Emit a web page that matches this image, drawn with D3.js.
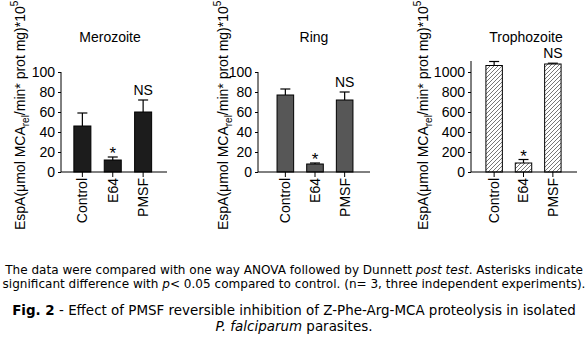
<!DOCTYPE html>
<html><head><meta charset="utf-8">
<script src="https://cdn.jsdelivr.net/npm/d3@7"></script>
<style>
body{margin:0;background:#fff;}
svg{display:block;}
</style></head>
<body>
<svg id="c" width="588" height="342"></svg>
<script>
const categories = ["Control", "E64", "PMSF"];
const panelTitles = ["Merozoite", "Ring", "Trophozoite"];
const merozoiteMean = [46, 12, 60];
const merozoiteErr = [59, 15, 72];
const ringMean = [77, 8, 72];
const ringErr = [83, 9, 80];
const trophozoiteMean = [1065, 90, 1080];
const trophozoiteErr = [1105, 125, 1088];
const marks = ["", "*", "NS"];
const ticksSmall = [0, 20, 40, 60, 80, 100];
const ticksLarge = [0, 200, 400, 600, 800, 1000];

const svg = d3.select("#c");
const defs = svg.append("defs");
const pat = defs.append("pattern").attr("id","hatch").attr("patternUnits","userSpaceOnUse")
  .attr("width",4).attr("height",4);
pat.append("rect").attr("width",4).attr("height",4).attr("fill","#fff");
pat.append("path").attr("d","M-1,1 l2,-2 M0,4 l4,-4 M3,5 l2,-2")
  .attr("stroke","#666").attr("stroke-width",0.9);

const FONT = "'Liberation Sans', Arial, sans-serif";
const panels = [
  {title:panelTitles[0], mean:merozoiteMean, err:merozoiteErr, ticks:ticksSmall, dom:[0,100], top:100,
   ax:61, b0:60.5, b1:165, xend:167, fill:"#1c1c1c", tx:110, lx:25},
  {title:panelTitles[1], mean:ringMean, err:ringErr, ticks:ticksSmall, dom:[0,100], top:100,
   ax:258, b0:264, b1:366, xend:370, fill:"#575757", tx:314, lx:228},
  {title:panelTitles[2], mean:trophozoiteMean, err:trophozoiteErr, ticks:ticksLarge, dom:[0,1000], top:1110,
   ax:471, b0:473, b1:574, xend:577, fill:"url(#hatch)", tx:526, lx:428}
];

const y0 = 172, y1 = 72;
panels.forEach(p => {
  const g = svg.append("g");
  const y = d3.scaleLinear().domain(p.dom).range([y0, y1]);
  const x = d3.scaleBand().domain(categories).range([p.b0, p.b1]).padding(0.44);
  // y axis
  const ya = g.append("g").attr("transform",`translate(${p.ax},0)`)
    .call(d3.axisLeft(y).tickValues(p.ticks).tickFormat(d3.format("d")).tickSize(3).tickPadding(3));
  ya.select(".domain").remove();
  ya.append("line").attr("x1",0).attr("x2",0).attr("y1",y(0)).attr("y2",y(p.top)).attr("stroke","#000");
  ya.selectAll("text").attr("font-family",FONT).attr("font-size",14).attr("fill","#000").attr("dy","0.35em");
  // bars
  g.selectAll("rect.bar").data(categories).enter().append("rect")
    .attr("x", d=>x(d)).attr("width", x.bandwidth())
    .attr("y", (d,i)=>y(p.mean[i])).attr("height",(d,i)=>y(0)-y(p.mean[i]))
    .attr("fill", p.fill).attr("stroke","#000").attr("stroke-width",1);
  // error bars
  categories.forEach((c,i)=>{
    const cx = x(c)+x.bandwidth()/2;
    g.append("line").attr("x1",cx).attr("x2",cx).attr("y1",y(p.mean[i])).attr("y2",y(p.err[i])).attr("stroke","#000").attr("stroke-width",1.2);
    g.append("line").attr("x1",cx-5).attr("x2",cx+5).attr("y1",y(p.err[i])).attr("y2",y(p.err[i])).attr("stroke","#000").attr("stroke-width",1.2);
    if (marks[i]) {
      const star = marks[i]==="*";
      g.append("text").attr("x",cx).attr("y", star ? y(p.err[i])+2 : y(p.err[i])-5)
        .attr("text-anchor","middle").attr("font-family",FONT).attr("font-size",star?17:14).text(marks[i]);
    }
  });
  // x axis
  const xa = g.append("g").attr("transform",`translate(0,${y0})`)
    .call(d3.axisBottom(x).tickSize(5).tickPadding(6));
  xa.select(".domain").remove();
  xa.append("line").attr("x1",p.ax).attr("x2",p.xend).attr("y1",0).attr("y2",0).attr("stroke","#000");
  xa.selectAll("text").attr("font-family",FONT).attr("font-size",14).attr("fill","#000")
    .attr("transform","rotate(-90)").attr("text-anchor","end").attr("x",-6).attr("y",0).attr("dy","0.35em");
  // title
  g.append("text").attr("x",p.tx).attr("y",42).attr("text-anchor","middle")
    .attr("font-family",FONT).attr("font-size",14).text(p.title);
  // y label
  const yl = g.append("text").attr("transform",`translate(${p.lx},230) rotate(-90)`)
    .attr("font-family",FONT).attr("font-size",14);
  yl.append("tspan").text("EspA(\u03bcmol MCA");
  yl.append("tspan").attr("font-size",10).attr("dy",4).text("rel");
  yl.append("tspan").attr("dy",-4).text("/min* prot mg)*10");
  yl.append("tspan").attr("font-size",10).attr("dy",-7).text("5");
});

// caption
const CF = "'DejaVu Sans', Verdana, sans-serif";
const cap = svg.append("g").attr("font-family",CF).attr("fill","#000");
const l1 = cap.append("text").attr("x",294).attr("y",274).attr("text-anchor","middle").attr("font-size",11);
l1.append("tspan").text("The data were compared with one way ANOVA followed by Dunnett ");
l1.append("tspan").attr("font-style","italic").text("post test");
l1.append("tspan").text(". Asterisks indicate");
const l2 = cap.append("text").attr("x",294).attr("y",288).attr("text-anchor","middle").attr("font-size",11);
l2.append("tspan").text("significant difference with ");
l2.append("tspan").attr("font-style","italic").text("p");
l2.append("tspan").text("< 0.05 compared to control. (n= 3, three independent experiments).");
const l3 = cap.append("text").attr("x",294).attr("y",315).attr("text-anchor","middle").attr("font-size",13);
l3.append("tspan").attr("font-weight","bold").text("Fig. 2");
l3.append("tspan").text(" - Effect of PMSF reversible inhibition of Z-Phe-Arg-MCA proteolysis in isolated");
const l4 = cap.append("text").attr("x",294).attr("y",331).attr("text-anchor","middle").attr("font-size",13);
l4.append("tspan").attr("font-style","italic").text("P. falciparum");
l4.append("tspan").text(" parasites.");
// fit caption widths to the reference
const s12 = 584 / l2.node().getComputedTextLength();
l1.attr("font-size", 11*s12); l2.attr("font-size", 11*s12);
const s3 = 564 / l3.node().getComputedTextLength();
l3.attr("font-size", 13*s3); l4.attr("font-size", 13*s3);
</script>
</body></html>
